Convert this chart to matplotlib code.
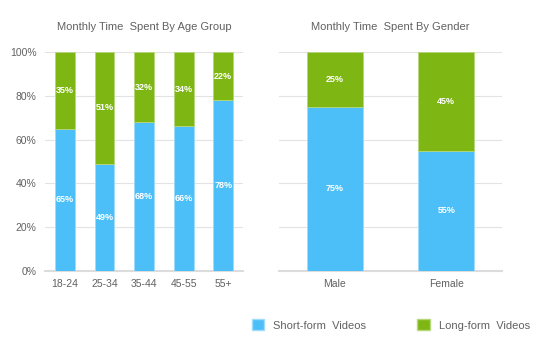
import matplotlib
matplotlib.use("Agg")
import matplotlib.pyplot as plt
from matplotlib.patches import Patch

age_groups = ["18-24", "25-34", "35-44", "45-55", "55+"]
age_short = [65, 49, 68, 66, 78]
age_long = [35, 51, 32, 34, 22]

genders = ["Male", "Female"]
gender_short = [75, 55]
gender_long = [25, 45]

yticks = [0, 20, 40, 60, 80, 100]
ytick_labels = ["0%", "20%", "40%", "60%", "80%", "100%"]

BLUE = "#4DBFF8"
GREEN = "#7EB713"
GRAY_TXT = "#616161"

plt.rcParams["font.family"] = ["Liberation Sans", "DejaVu Sans"]

fig = plt.figure(figsize=(5.55, 3.49), dpi=100)
ax1 = fig.add_axes([45/555, 1-271/349, 198/555, 219/349])
ax2 = fig.add_axes([279/555, 1-271/349, 223/555, 219/349])

def draw(ax, cats, short, long_, width, title, show_y):
    x = list(range(len(cats)))
    ax.bar(x, short, width=width, color=BLUE, edgecolor="#9fdcfb", linewidth=0.6, zorder=3)
    ax.bar(x, long_, bottom=short, width=width, color=GREEN, edgecolor="#b5d77a", linewidth=0.6, zorder=3)
    for xi, s, l in zip(x, short, long_):
        ax.text(xi, s/2, f"{s}%", ha="center", va="center", color="white",
                fontsize=6.5, fontweight="bold", zorder=4)
        ax.text(xi, s + l/2, f"{l}%", ha="center", va="center", color="white",
                fontsize=6.5, fontweight="bold", zorder=4)
    ax.set_xlim(-0.5, len(cats) - 0.5)
    ax.set_ylim(0, 100)
    ax.set_yticks(yticks)
    ax.grid(axis="y", color="#e3e3e3", linewidth=0.8, zorder=0)
    ax.set_xticks(x)
    ax.set_xticklabels(cats, fontsize=7.5, color=GRAY_TXT)
    if show_y:
        ax.set_yticklabels(ytick_labels, fontsize=7.5, color=GRAY_TXT)
    else:
        ax.set_yticklabels([])
    ax.tick_params(length=0, pad=6)
    for sp in ["top", "right", "left"]:
        ax.spines[sp].set_visible(False)
    ax.spines["bottom"].set_color("#dcdcdc")
    ax.spines["bottom"].set_linewidth(1.5)
    ax.set_title(title, fontsize=8, color=GRAY_TXT, pad=16)

draw(ax1, age_groups, age_short, age_long, 0.5, "Monthly Time  Spent By Age Group", True)
draw(ax2, genders, gender_short, gender_long, 0.5, "Monthly Time  Spent By Gender", False)

handles = [Patch(facecolor=BLUE, edgecolor="#9fdcfb", label="Short-form  Videos"),
           Patch(facecolor=GREEN, edgecolor="#b5d77a", label="Long-form  Videos")]
leg = fig.legend(handles=handles, loc="center", bbox_to_anchor=(391/555, 1-325/349),
                 ncol=2, frameon=False, fontsize=8, handlelength=1.1, handleheight=1.1,
                 columnspacing=4.6, handletextpad=0.8)
for t in leg.get_texts():
    t.set_color(GRAY_TXT)

fig.savefig("out.png", dpi=100)
